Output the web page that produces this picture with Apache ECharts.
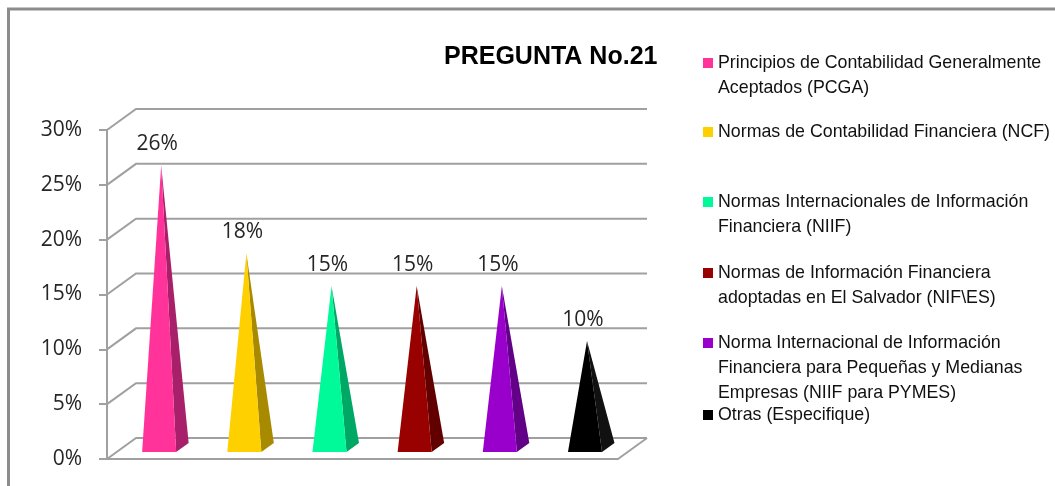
<!DOCTYPE html>
<html>
<head>
<meta charset="utf-8">
<script src="https://cdn.jsdelivr.net/npm/echarts@6/dist/echarts.min.js"></script>
<style>
  html, body { margin: 0; padding: 0; background: #fff; }
  #chart { width: 1055px; height: 486px; }
</style>
</head>
<body>
<div id="chart"></div>
<script>
// datos de la pregunta 21
var categories = [
  'Principios de Contabilidad Generalmente\nAceptados (PCGA)',
  'Normas de Contabilidad Financiera (NCF)',
  'Normas Internacionales de Información\nFinanciera (NIIF)',
  'Normas de Información Financiera\nadoptadas en El Salvador (NIF\\ES)',
  'Norma Internacional de Información\nFinanciera para Pequeñas y Medianas\nEmpresas (NIIF para PYMES)',
  'Otras (Especifique)'
];
var values = [26, 18, 15, 15, 15, 10];
var yTicks = [0, 5, 10, 15, 20, 25, 30];

// estilos
var faceColors = ['#FF3399', '#FFD000', '#00FA9A', '#990000', '#9900CC', '#000000'];
var sideColors = ['#A8206A', '#A88A00', '#00A865', '#620000', '#620088', '#111111'];
var legendRows = [63, 132, 202, 273, 343, 415];   // centro del icono de cada leyenda
var DX = 29, DY = 21;                               // profundidad 3D
var GRID_COLOR = '#a0a0a0';
var LABEL_FONT = '"Open Sans", sans-serif';

var chart = echarts.init(document.getElementById('chart'));

// paredes en perspectiva (fondo y lateral)
function renderWall(params, api) {
  var cs = params.coordSys;
  var v = api.value(1);
  var y = api.coord([0, v])[1];
  var children = [{
    type: 'polyline',
    shape: { points: [[cs.x, y], [cs.x + DX, y - DY], [cs.x + cs.width + DX, y - DY]] },
    style: { stroke: GRID_COLOR, lineWidth: 2, fill: null }
  }];
  if (v === 0) {
    children.push({
      type: 'line',
      shape: { x1: cs.x + cs.width, y1: y, x2: cs.x + cs.width + DX, y2: y - DY },
      style: { stroke: GRID_COLOR, lineWidth: 2 }
    });
  }
  return { type: 'group', children: children };
}

// piramide: cara frontal + cara lateral + etiqueta
function renderPyramid(params, api) {
  var idx = params.seriesIndex - 1;
  var i = api.value(0), v = api.value(1);
  var top = api.coord([i, v]);
  var base = api.coord([i, 0]);
  var half = api.size([1, 0])[0] * 0.2;
  function at(x, y, f) { return [x + f * DX, y - f * DY]; }
  var bl = at(base[0] - half, base[1], 0.33);
  var br = at(base[0] + half, base[1], 0.33);
  var bb = at(base[0] + half, base[1], 0.76);
  var apex = at(top[0], top[1], 0.4);
  return {
    type: 'group',
    children: [
      { type: 'polygon', shape: { points: [br, bb, apex] }, style: { fill: sideColors[idx] } },
      { type: 'polygon', shape: { points: [bl, br, apex] }, style: { fill: faceColors[idx] } },
      {
        type: 'text',
        style: {
          text: v + '%', x: apex[0] - 4, y: apex[1] - 21,
          align: 'center', verticalAlign: 'middle',
          fontFamily: LABEL_FONT, fontSize: 21, fill: '#262626'
        }
      }
    ]
  };
}

var series = [{
  type: 'custom',
  silent: true,
  z: 1,
  renderItem: renderWall,
  data: yTicks.map(function (t) { return [0, t]; })
}];
categories.forEach(function (name, i) {
  series.push({
    type: 'custom',
    name: name,
    z: 2,
    color: faceColors[i],
    renderItem: renderPyramid,
    data: [[i, values[i]]]
  });
});

var legends = categories.map(function (name, i) {
  var n = name.split('\n').length;
  return {
    data: [name],
    orient: 'vertical',
    left: 703,
    top: legendRows[i] - (2 * n - 1) * 12.5,
    padding: 0,
    icon: 'rect',
    itemWidth: 10,
    itemHeight: 10,
    selectedMode: false,
    formatter: function (s) { return new Array(n).join('\n') + s; },
    textStyle: { fontFamily: '"Liberation Sans", Arial, sans-serif', fontSize: 17.8, lineHeight: 25, color: '#111' }
  };
});

var option = {
  animation: false,
  title: {
    text: 'PREGUNTA No.21',
    left: 444,
    top: 45,
    padding: 0,
    textStyle: {
      fontFamily: '"Liberation Sans", Arial, sans-serif',
      fontSize: 25,
      fontWeight: 'bold',
      color: '#000'
    }
  },
  legend: legends,
  grid: { left: 107, right: 437, top: 130, bottom: 27 },
  xAxis: {
    type: 'category',
    data: categories,
    axisLine: { show: true, lineStyle: { color: GRID_COLOR, width: 2 } },
    axisTick: { show: false },
    axisLabel: { show: false }
  },
  yAxis: {
    type: 'value',
    min: yTicks[0],
    max: yTicks[yTicks.length - 1],
    interval: 5,
    splitLine: { show: false },
    axisLine: { show: true, lineStyle: { color: GRID_COLOR, width: 2 } },
    axisTick: { show: true, length: 8, lineStyle: { color: GRID_COLOR, width: 2 } },
    axisLabel: {
      formatter: '{value}%',
      margin: 25,
      fontFamily: LABEL_FONT,
      fontSize: 21,
      color: '#262626'
    }
  },
  graphic: [{
    type: 'rect',
    silent: true,
    shape: { x: 8.5, y: 9, width: 1200, height: 600 },
    style: { fill: null, stroke: '#8c8c8c', lineWidth: 3 }
  }],
  series: series
};

chart.setOption(option);
</script>
</body>
</html>
